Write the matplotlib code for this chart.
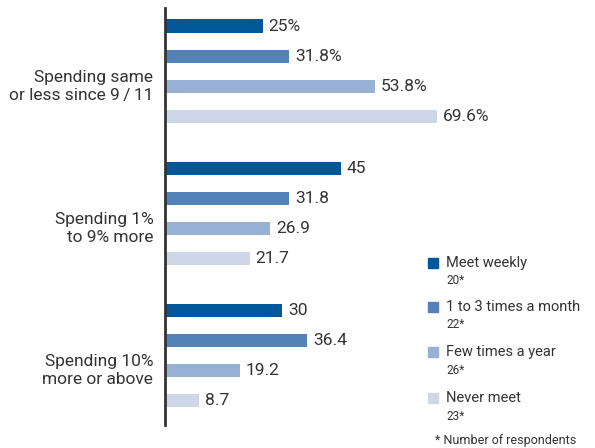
import numpy as np
import matplotlib.pyplot as plt

plt.rcParams['font.family'] = ['Roboto', 'DejaVu Sans']

groups = ["Spending same\nor less since 9\u2009/\u200911", "Spending 1%\nto 9% more", "Spending 10%\nmore or above"]
series = ["Meet weekly", "1 to 3 times a month", "Few times a year", "Never meet"]
respondents = ["20*", "22*", "26*", "23*"]
values = [
    [25, 45, 30],
    [31.8, 31.8, 36.4],
    [53.8, 26.9, 19.2],
    [69.6, 21.7, 8.7],
]
labels = [
    ["25%", "45", "30"],
    ["31.8%", "31.8", "36.4"],
    ["53.8%", "26.9", "19.2"],
    ["69.6%", "21.7", "8.7"],
]
colors = ["#00589b", "#5282b8", "#98b0d4", "#cdd7e8"]
text_color = "#333333"

fig = plt.figure(figsize=(5.95, 4.48), dpi=100)
ax = fig.add_axes([165 / 595, 1 - 425 / 448, (595 - 165) / 595, 417 / 448])

group_gap = 4.7
step = 1.0
for i, (vals, labs, col) in enumerate(zip(values, labels, colors)):
    y = np.arange(len(groups)) * group_gap + i * step
    ax.barh(y, vals, height=0.44, color=col)
    for yy, v, lab in zip(y, vals, labs):
        ax.text(v + 1.5, yy, lab, va='center', ha='left', fontsize=12.5, color=text_color)

for g, name in enumerate(groups):
    ax.text(-3.0, g * group_gap + 2.0, name, ha='right', va='center', fontsize=12.5,
            color=text_color, linespacing=1.25, clip_on=False)

ax.set_xlim(0, 110)
ax.set_ylim(13.2, -0.6)
for s in ["top", "right", "bottom"]:
    ax.spines[s].set_visible(False)
ax.spines["left"].set_linewidth(2)
ax.spines["left"].set_color("#333333")
ax.set_xticks([])
ax.set_yticks([])

# legend drawn by hand: square, series name, respondent count
leg_y = [263, 307, 352, 398]
for col, name, n, py in zip(colors, series, respondents, leg_y):
    fy = 1 - py / 448
    fig.patches.append(plt.Rectangle((428 / 595, fy - 5 / 448), 10 / 595, 10 / 448,
                                     color=col, transform=fig.transFigure))
    fig.text(446 / 595, fy, name, ha='left', va='center', fontsize=10.5, color=text_color)
    fig.text(446 / 595, fy - 18 / 448, n, ha='left', va='center', fontsize=8.5, color=text_color)

fig.text(435 / 595, 1 - 440 / 448, "* Number of respondents", ha='left', va='center',
         fontsize=9, color=text_color)

fig.savefig("out.png", dpi=100)
